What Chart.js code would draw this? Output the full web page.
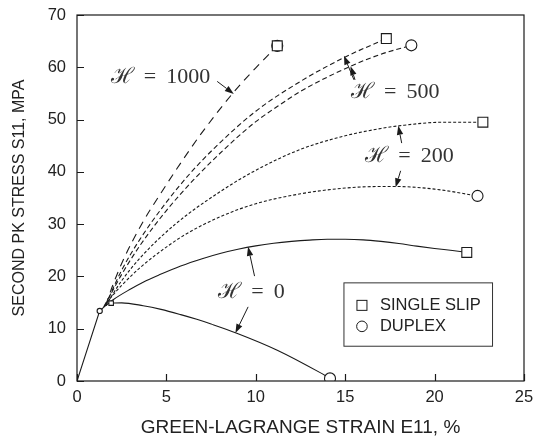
<!DOCTYPE html>
<html>
<head>
<meta charset="utf-8">
<script src="https://cdn.jsdelivr.net/npm/chart.js@4.4.0/dist/chart.umd.min.js"></script>
<style>
  html, body { margin: 0; padding: 0; background: #fff; }
  #wrap { width: 535px; height: 440px; }
</style>
</head>
<body>
<div id="wrap"><canvas id="chart"></canvas></div>
<script>
// curves: [strain %, stress MPa]
const elasticLine = [[0, 0], [1.27, 13.4], [1.6, 14.4]];
const h0Single = [[1.6, 14.4], [2.0, 15.5], [3.0, 17.6], [3.7, 18.9], [4.6, 20.3], [5.8, 22.0], [7.0, 23.4], [8.0, 24.4], [9.0, 25.2], [10.0, 25.85], [11.0, 26.35], [12.0, 26.7], [13.0, 26.95], [14.0, 27.1], [15.0, 27.1], [16.0, 27.0], [17.0, 26.7], [18.0, 26.3], [19.0, 25.8], [20.0, 25.35], [21.0, 24.95], [21.8, 24.6]];
const h0Duplex = [[1.91, 14.9], [2.5, 14.95], [3.7, 14.4], [4.7, 13.7], [5.8, 12.7], [6.7, 11.8], [7.5, 10.9], [8.9, 9.2], [11.2, 5.9], [13.6, 1.6], [14.15, 0.5]];
const h200Single = [[1.6, 14.4], [2.0, 16.6], [2.5, 19.2], [3.6, 23.8], [5.5, 30.0], [8.0, 36.2], [10.0, 40.3], [12.5, 44.3], [15.0, 46.9], [17.0, 48.3], [18.0, 48.8], [20.5, 49.5], [22.7, 49.5]];
const h200Duplex = [[1.5, 14.2], [2.0, 16.4], [2.5, 18.3], [3.5, 21.6], [4.4, 24.1], [6.0, 27.9], [8.0, 31.4], [10.0, 33.9], [12.5, 35.8], [15.0, 36.9], [17.0, 37.2], [17.8, 37.2], [20.0, 36.7], [22.4, 35.4]];
const h500Single = [[1.6, 14.4], [2.0, 17.6], [2.5, 21.2], [3.5, 27.0], [5.0, 34.2], [6.3, 39.6], [7.7, 44.6], [10.0, 51.6], [12.5, 57.3], [14.9, 61.8], [17.3, 65.5]];
const h500Duplex = [[1.5, 14.2], [2.0, 17.3], [2.5, 20.4], [3.5, 25.8], [5.0, 32.6], [6.5, 38.4], [8.2, 44.2], [10.0, 49.6], [11.6, 53.4], [12.5, 55.4], [15.3, 60.2], [17.0, 62.5], [18.7, 64.2]];
const h1000 = [[1.6, 14.4], [2.0, 18.3], [2.58, 23.1], [3.6, 29.9], [4.63, 35.6], [6.3, 44.2], [7.03, 47.7], [8.68, 54.9], [10.0, 59.9], [11.2, 64.1]];
const yieldDuplex = [[1.27, 13.4]];
const yieldSingle = [[1.91, 14.9]];

const xTicks = [0, 5, 10, 15, 20, 25];
const yTicks = [0, 10, 20, 30, 40, 50, 60, 70];
const xTitle = 'GREEN-LAGRANGE STRAIN E11, %';
const yTitle = 'SECOND PK STRESS S11, MPA';
const legendLabels = ['SINGLE SLIP', 'DUPLEX'];
const hLabels = ['ℋ = 1000', 'ℋ = 500', 'ℋ = 200', 'ℋ = 0'];

const last = a => a[a.length - 1];
const singleEnds = [h0Single, h200Single, h500Single, h1000].map(last);
const duplexEnds = [h0Duplex, h200Duplex, h500Duplex, h1000].map(last);

const ink = '#1a1a1a';

// label placement in data units, arrows go from [x,y] tail to [x,y] tip
const notes = [
  { text: hLabels[0], at: [4.67, 58.1], arrows: [[[7.84, 57.3], [8.77, 54.9]]] },
  { text: hLabels[1], at: [17.8, 55.2], arrows: [[[15.49, 57.6], [14.93, 62.2]], [[15.55, 57.6], [15.3, 60.2]]] },
  { text: hLabels[2], at: [18.6, 42.9], arrows: [[[18.16, 45.5], [17.97, 48.8]], [[18.1, 40.2], [17.82, 37.05]]] },
  { text: hLabels[3], at: [9.76, 17.05], arrows: [[[9.93, 20.06], [9.57, 25.67]], [[9.57, 14.18], [8.86, 9.2]]] }
];
const legendBox = { x0: 14.93, y0: 18.77, x1: 23.24, y1: 6.65 };

function line(data, dash, straight) {
  const d = {
    data: data, showLine: true, borderColor: ink, borderWidth: 1.1,
    borderDash: dash, pointRadius: 0, fill: false
  };
  if (!straight) d.cubicInterpolationMode = 'monotone';
  return d;
}
function marks(data, style, r) {
  return {
    data: data, showLine: false, pointStyle: style, pointRadius: r,
    pointBackgroundColor: '#fff', pointBorderColor: ink, pointBorderWidth: 1.1
  };
}

function arrow(ctx, x0, y0, x1, y1) {
  const ang = Math.atan2(y1 - y0, x1 - x0);
  const len = 9, half = 3.2;
  const bx = x1 - Math.cos(ang) * len, by = y1 - Math.sin(ang) * len;
  ctx.beginPath();
  ctx.moveTo(x0, y0);
  ctx.lineTo(bx, by);
  ctx.stroke();
  ctx.beginPath();
  ctx.moveTo(x1, y1);
  ctx.lineTo(bx + Math.sin(ang) * half, by - Math.cos(ang) * half);
  ctx.lineTo(bx - Math.sin(ang) * half, by + Math.cos(ang) * half);
  ctx.closePath();
  ctx.fill();
}

// draws "ℋ = 1000" with the wide math spacing of the original
function mathLabel(ctx, text, cx, cy) {
  const parts = text.split(' ');
  const gap = 10;
  const widths = parts.map(p => ctx.measureText(p).width);
  const total = widths.reduce((s, w) => s + w, 0) + gap * (parts.length - 1);
  let px = cx - total / 2;
  parts.forEach((p, i) => {
    ctx.fillText(p, px, cy);
    px += widths[i] + gap;
  });
}

const framePlugin = {
  id: 'frame',
  afterDraw(chart) {
    const { ctx, chartArea: a, scales: { x, y } } = chart;
    ctx.save();
    ctx.strokeStyle = ink;
    ctx.fillStyle = ink;
    ctx.lineWidth = 1.2;
    ctx.strokeRect(a.left, a.top, a.right - a.left, a.bottom - a.top);
    ctx.beginPath();
    xTicks.forEach(v => {
      const px = Math.round(x.getPixelForValue(v)) + 0.5;
      ctx.moveTo(px, a.bottom); ctx.lineTo(px, a.bottom - 7);
    });
    yTicks.forEach(v => {
      const py = Math.round(y.getPixelForValue(v)) + 0.5;
      ctx.moveTo(a.left, py); ctx.lineTo(a.left + 7, py);
    });
    ctx.stroke();

    // H labels with arrows
    ctx.lineWidth = 1;
    ctx.font = '22px "Liberation Serif", "DejaVu Serif", serif';
    ctx.textAlign = 'left';
    ctx.textBaseline = 'middle';
    notes.forEach(n => {
      ctx.fillStyle = '#333';
      mathLabel(ctx, n.text, x.getPixelForValue(n.at[0]), y.getPixelForValue(n.at[1]));
      ctx.fillStyle = ink;
      n.arrows.forEach(([t, h]) => arrow(ctx,
        x.getPixelForValue(t[0]), y.getPixelForValue(t[1]),
        x.getPixelForValue(h[0]), y.getPixelForValue(h[1])));
    });

    // legend
    const lx0 = x.getPixelForValue(legendBox.x0), ly0 = y.getPixelForValue(legendBox.y0);
    const lx1 = x.getPixelForValue(legendBox.x1), ly1 = y.getPixelForValue(legendBox.y1);
    ctx.fillStyle = '#fff';
    ctx.fillRect(lx0, ly0, lx1 - lx0, ly1 - ly0);
    ctx.strokeStyle = '#333';
    ctx.strokeRect(lx0, ly0, lx1 - lx0, ly1 - ly0);
    ctx.strokeStyle = ink;
    ctx.strokeRect(lx0 + 13, ly0 + 17.5, 10, 10);
    ctx.beginPath();
    ctx.arc(lx0 + 18, ly0 + 43.5, 5.3, 0, Math.PI * 2);
    ctx.stroke();
    ctx.fillStyle = '#222';
    ctx.font = '16.5px "Liberation Sans", Arial, sans-serif';
    ctx.textAlign = 'left';
    ctx.fillText(legendLabels[0], lx0 + 36, ly0 + 23);
    ctx.fillText(legendLabels[1], lx0 + 36, ly0 + 44);
    ctx.restore();
  }
};

const sans = '"Liberation Sans", Arial, sans-serif';
const tickFont = { family: sans, size: 16.5 };

new Chart(document.getElementById('chart'), {
  type: 'scatter',
  data: {
    datasets: [
      marks(singleEnds, 'rect', 7),
      marks(duplexEnds, 'circle', 5.5),
      marks(yieldSingle, 'rect', 3.2),
      marks(yieldDuplex, 'circle', 2.6),
      line(elasticLine, [], true),
      line(h0Single, []),
      line(h0Duplex, []),
      line(h200Single, [3, 2]),
      line(h200Duplex, [3, 2]),
      line(h500Single, [5, 3]),
      line(h500Duplex, [5, 3]),
      line(h1000, [8, 6])
    ]
  },
  options: {
    responsive: true,
    maintainAspectRatio: false,
    animation: false,
    devicePixelRatio: 1,
    layout: { padding: { top: 15, right: 11, left: 0, bottom: 0 } },
    plugins: { legend: { display: false }, tooltip: { enabled: false } },
    scales: {
      x: {
        type: 'linear', min: 0, max: 25,
        afterBuildTicks: s => { s.ticks = xTicks.map(v => ({ value: v })); },
        afterFit: s => { s.height = 59; s.paddingLeft = 0; s.paddingRight = 0; },
        grid: { display: false, drawTicks: false }, border: { display: false },
        ticks: { color: '#222', font: tickFont, padding: 7, maxRotation: 0 },
        title: { display: true, text: xTitle, color: '#222', font: { family: sans, size: 19 }, padding: { top: 0, bottom: 1 } }
      },
      y: {
        type: 'linear', min: 0, max: 70,
        afterBuildTicks: s => { s.ticks = yTicks.map(v => ({ value: v })); },
        afterFit: s => { s.width = 77; s.paddingTop = 0; s.paddingBottom = 0; },
        grid: { display: false, drawTicks: false }, border: { display: false },
        ticks: { color: '#222', font: tickFont, padding: 11 },
        title: { display: true, text: yTitle, color: '#222', font: { family: sans, size: 16 }, padding: { top: 10, bottom: 0 } }
      }
    }
  },
  plugins: [framePlugin]
});
</script>
</body>
</html>
